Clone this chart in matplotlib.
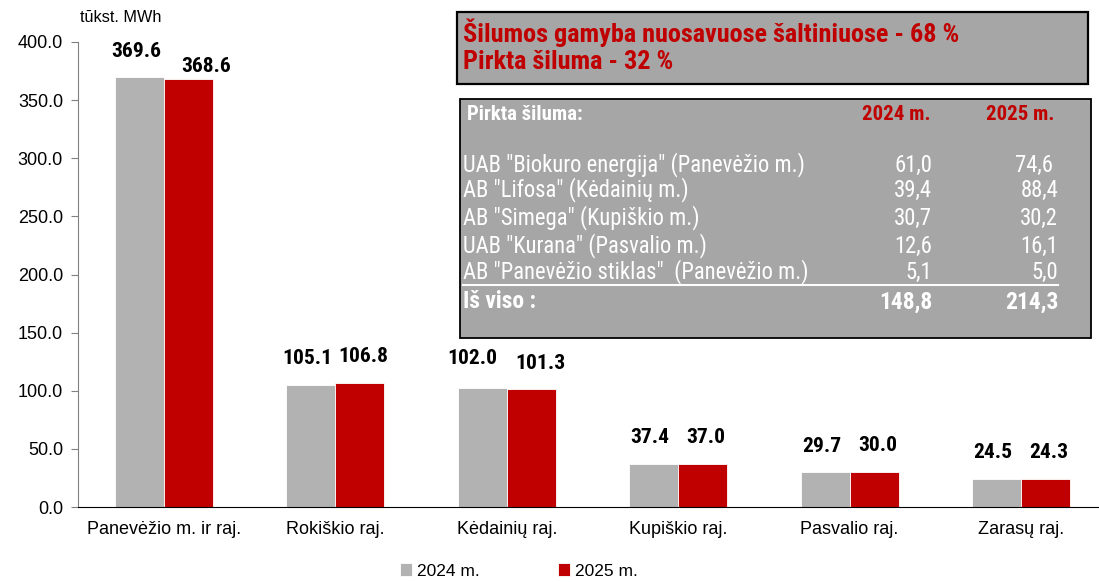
import matplotlib
matplotlib.use("Agg")
import matplotlib.pyplot as plt
from matplotlib import font_manager
from matplotlib.font_manager import FontProperties
from matplotlib.patches import Rectangle
from matplotlib.lines import Line2D

W, H = 1099, 582
GRAY = "#b2b2b2"
RED = "#c00000"
BOX = "#a6a6a6"

categories = ["Panevėžio m. ir raj.", "Rokiškio raj.", "Kėdainių raj.",
              "Kupiškio raj.", "Pasvalio raj.", "Zarasų raj."]
vals_2024 = [369.6, 105.1, 102.0, 37.4, 29.7, 24.5]
vals_2025 = [368.6, 106.8, 101.3, 37.0, 30.0, 24.3]
series_names = ["2024 m.", "2025 m."]

headline = ["Šilumos gamyba nuosavuose šaltiniuose - 68 %",
            "Pirkta šiluma - 32 %"]
suppliers = ['UAB "Biokuro energija" (Panevėžio m.)',
             'AB "Lifosa" (Kėdainių m.)',
             'AB "Simega" (Kupiškio m.)',
             'UAB "Kurana" (Pasvalio m.)',
             'AB "Panevėžio stiklas"  (Panevėžio m.)']
bought_2024 = ["61,0", "39,4", "30,7", "12,6", "5,1"]
bought_2025 = ["74,6 ", "88,4", "30,2", "16,1", "5,0"]
total_2024 = "148,8"
total_2025 = "214,3"

plt.rcParams["font.family"] = ["Liberation Sans", "DejaVu Sans"]


def pick_narrow():
    # a condensed family with static regular + bold files, Arial Narrow look-alikes first
    wanted = ["Liberation Sans Narrow", "Arial Narrow", "Roboto Condensed",
              "Archivo Narrow", "PT Sans Narrow", "Asap Condensed"]
    for name in wanted:
        files = {}
        for f in font_manager.fontManager.ttflist:
            if f.name == name and "[" not in f.fname and f.style == "normal":
                if f.weight in (400, "normal", "regular"):
                    files["reg"] = f.fname
                elif f.weight in (700, "bold"):
                    files["bold"] = f.fname
        if len(files) == 2:
            return FontProperties(fname=files["reg"]), FontProperties(fname=files["bold"])
    return FontProperties(family="Liberation Sans"), FontProperties(family="Liberation Sans", weight="bold")


REG, BOLD = pick_narrow()


def px(x, y):
    return x / W, 1 - y / H


fig = plt.figure(figsize=(W / 100, H / 100), dpi=100)
renderer = fig.canvas.get_renderer()


def fit(fp, s, width_px):
    # font size that makes s about width_px wide
    t = fig.text(0, 0, s, fontproperties=fp, fontsize=10)
    w = t.get_window_extent(renderer).width
    t.remove()
    return 10 * width_px / w


def ftext(x, y, s, fp, size, **kw):
    kw.setdefault("va", "center")
    p = fp.copy()
    p.set_size(size)
    return fig.text(*px(x, y), s, fontproperties=p, **kw)


ax = fig.add_axes([78.3 / W, (H - 507) / H, (W - 78.3) / W, 465 / H])

xs = list(range(len(categories)))
bw = 0.286
b1 = ax.bar([x - bw / 2 for x in xs], vals_2024, bw, color=GRAY,
            edgecolor="white", linewidth=0.6, label=series_names[0])
b2 = ax.bar([x + bw / 2 for x in xs], vals_2025, bw, color=RED,
            edgecolor="white", linewidth=0.6, label=series_names[1])

lab_fp = BOLD.copy()
lab_fp.set_size(fit(BOLD, "105.1", 50))
# hand-moved labels in the original (points: dx, dy)
nudge = {(1, 0): (10, -10.5), (0, 2): (-5, 3), (1, 2): (4, 0)}
for si, (bars, vals) in enumerate(((b1, vals_2024), (b2, vals_2025))):
    for i, (rect, v) in enumerate(zip(bars, vals)):
        dx, dy = nudge.get((si, i), (0, 0))
        dx += -2.5 if si == 0 else 2.5
        ax.annotate(f"{v:.1f}", (rect.get_x() + rect.get_width() / 2, v),
                    xytext=(dx, 12 + dy), textcoords="offset points",
                    ha="center", va="bottom", fontproperties=lab_fp)

ax.set_xlim(-0.5, (W - 164) / 171.4)
ax.set_ylim(0, 400)
ax.set_yticks(range(0, 401, 50))
ax.set_yticklabels([f"{t:.1f}" for t in range(0, 401, 50)], fontsize=13)
ax.set_xticks(xs)
ax.set_xticklabels(categories, fontsize=13)
ax.tick_params(axis="x", length=0, pad=10)
ax.tick_params(axis="y", length=5, color="#808080", pad=6)
for s in ("top", "right"):
    ax.spines[s].set_visible(False)
ax.spines["left"].set_color("#808080")
ax.spines["bottom"].set_color("black")

fig.text(*px(80, 18), "tūkst. MWh", fontsize=11.7, ha="left", va="center")

fig.legend(handles=[b1, b2], loc="center", bbox_to_anchor=px(519, 571),
           ncol=2, frameon=False, fontsize=12.5, handlelength=0.7,
           handleheight=0.7, handletextpad=0.3, columnspacing=4.5)

# headline box
x0, y0 = px(457, 84)
x1, y1 = px(1088, 12)
fig.patches.append(Rectangle((x0, y0), x1 - x0, y1 - y0, transform=fig.transFigure,
                             facecolor=BOX, edgecolor="black", linewidth=1.6))
hs = fit(BOLD, headline[0], 497)
ftext(463, 33, headline[0], BOLD, hs, color=RED)
ftext(463, 62, headline[1], BOLD, hs, color=RED)

# purchased heat table
x0, y0 = px(460, 338)
x1, y1 = px(1091, 99)
fig.patches.append(Rectangle((x0, y0), x1 - x0, y1 - y0, transform=fig.transFigure,
                             facecolor=BOX, edgecolor="black", linewidth=1.3))
th = fit(BOLD, "Pirkta šiluma:", 116)
ftext(467, 114, "Pirkta šiluma:", BOLD, th, color="white")
ftext(931, 114, series_names[0], BOLD, th, color=RED, ha="right")
ftext(1055, 114, series_names[1], BOLD, th, color=RED, ha="right")

rs = fit(REG, suppliers[0], 340)
row_y = [165, 190, 218, 246, 272]
for y, name, a, b in zip(row_y, suppliers, bought_2024, bought_2025):
    ftext(463, y, name, REG, rs, color="white")
    ftext(932, y, a, REG, rs, color="white", ha="right")
    ftext(1058, y, b, REG, rs, color="white", ha="right")

fig.add_artist(Line2D([463 / W, 1058 / W], [1 - 285 / H, 1 - 285 / H],
                      transform=fig.transFigure, color="white", linewidth=1.5))

ts = fit(BOLD, "Iš viso :", 74)
ftext(463, 302, "Iš viso :", BOLD, ts, color="white")
ftext(932, 302, total_2024, BOLD, ts, color="white", ha="right")
ftext(1058, 302, total_2025, BOLD, ts, color="white", ha="right")

fig.savefig("out.png", dpi=100)
